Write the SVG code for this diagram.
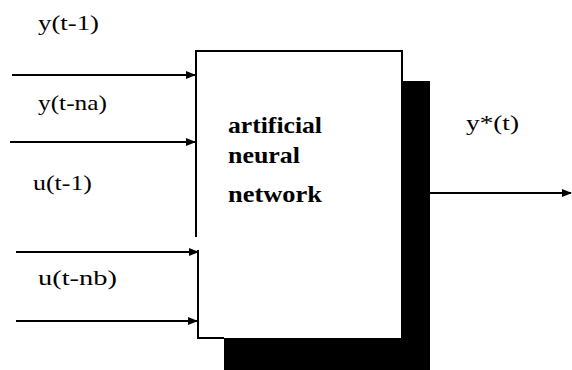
<svg xmlns="http://www.w3.org/2000/svg" width="572" height="370" viewBox="0 0 572 370">
<style>
.lbl{font-family:"Liberation Serif","Times New Roman",serif;font-size:22px;fill:#000}
.b{font-family:"Liberation Serif","Times New Roman",serif;font-size:23px;font-weight:bold;fill:#000}
.ln{stroke:#000;stroke-width:2;fill:none}
</style>
<defs>
<marker id="ah" markerWidth="10" markerHeight="8" refX="9" refY="4" orient="auto" markerUnits="userSpaceOnUse">
<path d="M0,0 L10,4 L0,8 Z" fill="#000"/>
</marker>
</defs>
<g id="shadow">
<rect x="224" y="81" width="206" height="289" fill="#000"/>
</g>
<g id="ann">
<rect x="196" y="51" width="205" height="287" fill="#fff"/>
<path d="M196,237 L196,51 L402,51 L402,81" class="ln" stroke-width="3"/>
<path d="M196,51 L196,237" class="ln"/>
<path d="M198,250 L198,338 L224,338" class="ln"/>
<text class="b" x="228" y="133" textLength="94" lengthAdjust="spacingAndGlyphs">artificial</text>
<text class="b" x="228" y="163" textLength="72" lengthAdjust="spacingAndGlyphs">neural</text>
<text class="b" x="228" y="202" textLength="94" lengthAdjust="spacingAndGlyphs">network</text>
</g>
<g id="connectors">
<line x1="12" y1="75" x2="195" y2="75" class="ln" marker-end="url(#ah)"/>
<line x1="10" y1="142" x2="195" y2="142" class="ln" marker-end="url(#ah)"/>
<line x1="16" y1="252" x2="198" y2="252" class="ln" stroke-width="3" marker-end="url(#ah)"/>
<line x1="16" y1="321" x2="197" y2="321" class="ln" marker-end="url(#ah)"/>
<line x1="401" y1="193" x2="571" y2="193" class="ln" marker-end="url(#ah)"/>
</g>
<g id="labels">
<text class="lbl" x="38" y="30" textLength="61" lengthAdjust="spacingAndGlyphs">y(t-1)</text>
<text class="lbl" x="38" y="110" textLength="69" lengthAdjust="spacingAndGlyphs">y(t-na)</text>
<text class="lbl" x="33" y="190" textLength="59" lengthAdjust="spacingAndGlyphs">u(t-1)</text>
<text class="lbl" x="38" y="285" textLength="79" lengthAdjust="spacingAndGlyphs">u(t-nb)</text>
<text class="lbl" x="466" y="130" textLength="53" lengthAdjust="spacingAndGlyphs">y*(t)</text>
</g>
</svg>
